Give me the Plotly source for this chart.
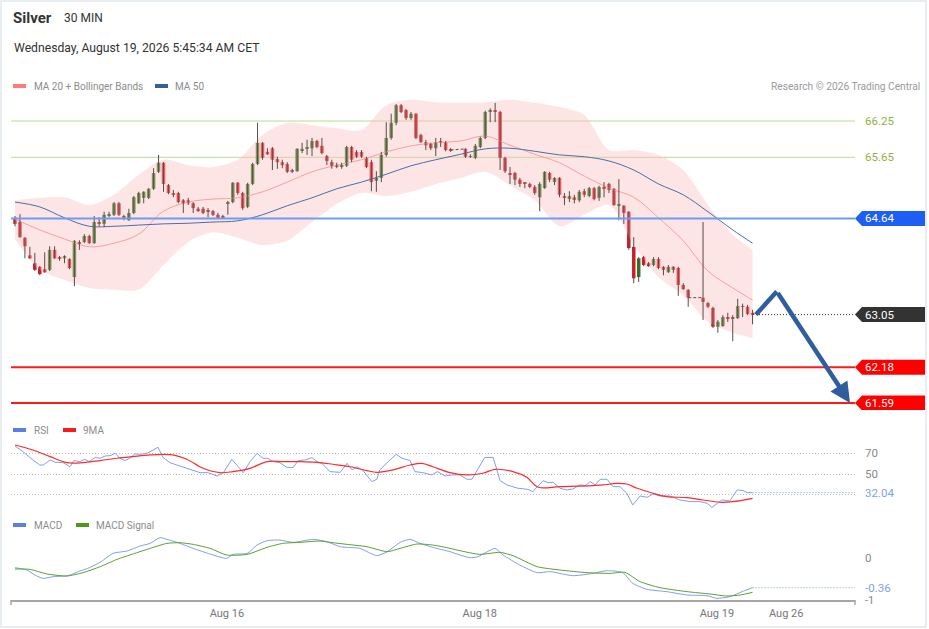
import plotly.graph_objects as go

W, H = 929, 629

# 30 min candles, positions on a slot axis (two session breaks left empty)
slots = list(range(0, 89)) + list(range(91, 137)) + list(range(139, 150))

opens = [64.65, 64.58, 64.32, 64.03, 63.90, 63.84, 63.80, 63.79, 64.12, 64.00,
         63.98, 63.97, 63.67, 64.25, 64.25, 64.35, 64.23, 64.58, 64.55, 64.68,
         64.70, 64.89, 64.68, 64.61, 64.73, 64.89, 64.98, 64.98, 65.13, 65.41,
         65.56, 65.19, 65.06, 65.06, 64.94, 64.94, 64.89, 64.80, 64.80, 64.78,
         64.76, 64.70, 64.68, 64.88, 64.91, 65.23, 65.06, 64.83, 65.21, 65.54,
         65.89, 65.74, 65.80, 65.62, 65.57, 65.54, 65.44, 65.42, 65.77, 65.79,
         65.80, 65.92, 65.84, 65.67, 65.57, 65.51, 65.49, 65.51, 65.82, 65.74,
         65.74, 65.64, 65.57, 65.26, 65.31, 65.69, 65.97, 66.22, 66.51, 66.43,
         66.30, 66.37, 66.02, 65.90, 65.87, 65.80, 65.92, 65.90, 65.79,
         65.79, 65.66, 65.64, 65.82, 65.97, 66.40, 66.43, 66.40, 65.64, 65.39,
         65.39, 65.28, 65.23, 65.21, 65.16, 64.99, 65.14, 65.39, 65.24, 65.31,
         65.01, 64.96, 64.99, 64.94, 65.09, 65.01, 65.14, 64.98, 65.16, 65.21,
         65.13, 64.85, 64.85, 64.75, 64.17, 63.67, 64.00, 63.90, 63.87, 63.97,
         63.84, 63.75, 63.84, 63.82, 63.54, 63.46,
         63.33, 63.24, 63.16, 62.85, 62.86, 63.01, 63.01, 62.99, 63.19, 63.18, 63.08]

highs = [64.68, 64.71, 64.33, 64.17, 64.07, 63.85, 64.08, 64.18, 64.18, 64.02,
         64.03, 63.98, 64.28, 64.28, 64.38, 64.37, 64.68, 64.66, 64.75, 64.75,
         64.91, 64.91, 64.70, 64.80, 65.01, 65.08, 65.09, 65.14, 65.47, 65.69,
         65.57, 65.21, 65.11, 65.08, 64.96, 64.98, 64.91, 64.83, 64.83, 64.81,
         64.78, 64.73, 64.70, 64.93, 65.24, 65.24, 65.08, 65.23, 65.56, 66.22,
         65.90, 65.80, 65.82, 65.66, 65.61, 65.57, 65.46, 65.80, 65.89, 65.94,
         65.97, 65.94, 65.97, 65.69, 65.61, 65.56, 65.56, 65.84, 65.84, 65.77,
         65.77, 65.66, 65.61, 65.42, 65.74, 66.23, 66.37, 66.53, 66.53, 66.45,
         66.40, 66.38, 66.04, 65.94, 65.89, 65.97, 65.97, 65.92, 65.80,
         65.80, 65.70, 65.87, 65.99, 66.42, 66.46, 66.55, 66.42, 65.66, 65.49,
         65.41, 65.31, 65.24, 65.23, 65.19, 65.24, 65.42, 65.41, 65.32, 65.32,
         65.06, 65.09, 65.03, 65.11, 65.13, 65.16, 65.16, 65.18, 65.24, 65.23,
         65.14, 65.29, 64.86, 64.76, 64.33, 64.00, 64.02, 63.92, 64.00, 64.00,
         63.85, 63.87, 63.85, 63.84, 63.57, 63.47,
         64.58, 63.26, 63.18, 62.96, 63.04, 63.08, 63.04, 63.31, 63.23, 63.21, 63.13]

lows = [64.51, 64.32, 63.98, 63.97, 63.77, 63.70, 63.74, 63.77, 63.97, 63.94,
        63.90, 63.80, 63.52, 64.12, 64.23, 64.22, 64.22, 64.51, 64.50, 64.66,
        64.68, 64.68, 64.61, 64.60, 64.71, 64.88, 64.89, 64.96, 65.11, 65.39,
        65.08, 65.04, 64.99, 64.89, 64.73, 64.86, 64.73, 64.75, 64.71, 64.66,
        64.68, 64.63, 64.65, 64.70, 64.89, 65.03, 64.78, 64.81, 65.19, 65.52,
        65.61, 65.69, 65.44, 65.46, 65.47, 65.39, 65.39, 65.41, 65.72, 65.69,
        65.67, 65.80, 65.70, 65.52, 65.46, 65.47, 65.46, 65.49, 65.57, 65.64,
        65.64, 65.47, 65.09, 65.08, 65.24, 65.66, 65.94, 66.18, 66.38, 66.27,
        66.27, 65.95, 65.89, 65.77, 65.77, 65.67, 65.82, 65.75, 65.74,
        65.64, 65.64, 65.62, 65.80, 65.95, 66.23, 66.23, 65.44, 65.39, 65.21,
        65.19, 65.16, 65.14, 65.14, 65.03, 64.76, 65.13, 65.24, 65.19, 64.99,
        64.86, 64.91, 64.89, 64.91, 64.99, 64.99, 64.94, 64.93, 64.99, 65.06,
        64.85, 64.61, 64.55, 64.12, 63.57, 63.59, 63.85, 63.84, 63.85, 63.80,
        63.70, 63.74, 63.74, 63.36, 63.46, 63.18,
        62.96, 63.16, 62.83, 62.75, 62.85, 62.93, 62.61, 62.98, 63.01, 63.04, 62.89]

closes = [64.55, 64.33, 64.18, 63.98, 63.79, 63.72, 63.75, 64.12, 63.98, 63.98,
          64.02, 63.82, 64.27, 64.22, 64.35, 64.23, 64.58, 64.55, 64.70, 64.70,
          64.89, 64.70, 64.65, 64.73, 64.99, 65.06, 65.08, 65.13, 65.39, 65.56,
          65.21, 65.06, 65.03, 64.91, 64.89, 64.89, 64.81, 64.76, 64.73, 64.75,
          64.70, 64.65, 64.66, 64.91, 65.23, 65.06, 64.81, 65.21, 65.54, 65.89,
          65.64, 65.70, 65.61, 65.57, 65.52, 65.41, 65.41, 65.79, 65.79, 65.82,
          65.92, 65.82, 65.72, 65.59, 65.51, 65.49, 65.51, 65.82, 65.61, 65.66,
          65.66, 65.49, 65.24, 65.31, 65.69, 65.97, 66.22, 66.51, 66.40, 66.30,
          66.37, 65.97, 65.90, 65.85, 65.80, 65.90, 65.89, 65.77, 65.77,
          65.66, 65.67, 65.84, 65.97, 66.40, 66.43, 66.40, 65.64, 65.42, 65.36,
          65.28, 65.21, 65.21, 65.16, 65.06, 65.21, 65.41, 65.28, 65.31, 65.03,
          64.98, 65.01, 64.96, 65.08, 65.03, 65.14, 64.96, 65.16, 65.14, 65.11,
          64.86, 64.88, 64.73, 64.15, 63.65, 63.98, 63.87, 63.85, 63.97, 63.82,
          63.79, 63.84, 63.79, 63.54, 63.47, 63.33,
          63.26, 63.18, 62.85, 62.93, 63.01, 62.98, 62.98, 63.19, 63.18, 63.06, 63.05]

# moving averages and Bollinger bands, read every 5 slots
band_slots = [0, 5, 10, 15, 20, 25, 30, 35, 40, 45, 50, 55, 60, 65, 70, 75,
              80, 85, 90, 95, 100, 105, 110, 115, 120, 125, 130, 135, 140, 145, 149]
ma20 = [64.63, 64.45, 64.30, 64.17, 64.23, 64.38, 64.76, 64.91, 64.96, 64.98,
        65.08, 65.24, 65.41, 65.52, 65.61, 65.74, 65.84, 65.89, 65.92, 66.00,
        65.85, 65.70, 65.56, 65.34, 65.14, 64.99, 64.65, 64.27, 63.77, 63.49, 63.29]
ma50 = [64.91, 64.83, 64.65, 64.51, 64.51, 64.53, 64.55, 64.56, 64.58, 64.60,
        64.70, 64.85, 64.98, 65.13, 65.24, 65.37, 65.51, 65.61, 65.70, 65.79,
        65.80, 65.75, 65.69, 65.66, 65.59, 65.44, 65.21, 65.03, 64.75, 64.45, 64.23]
bb_upper = [64.94, 64.98, 64.99, 64.86, 65.03, 65.36, 65.61, 65.52, 65.49, 65.61,
            66.02, 66.22, 66.18, 66.13, 66.10, 66.51, 66.60, 66.56, 66.55, 66.56,
            66.60, 66.55, 66.48, 66.35, 65.77, 65.77, 65.69, 65.44, 64.86, 64.37, 64.12]
bb_lower = [64.30, 63.79, 63.62, 63.49, 63.46, 63.46, 63.87, 64.25, 64.41, 64.32,
            64.20, 64.27, 64.58, 64.88, 65.06, 65.01, 65.08, 65.21, 65.31, 65.41,
            65.19, 64.94, 64.51, 64.70, 64.86, 64.20, 63.67, 63.37, 62.93, 62.75, 62.66]

# RSI and its 9 period average
rsi_slots = [0, 1.6, 3.6, 5, 5.7, 7.1, 8.1, 9.7, 11.1, 11.9,
             13.1, 14.1, 15, 16.2, 17.2, 18.2, 19.2, 20.2, 21.2, 22.2,
             23.2, 24.2, 25.3, 26.7, 27.9, 28.9, 29.9, 31.3, 32.7, 33.9,
             35.8, 37.4, 39, 40.8, 42, 43.8, 45.1, 46.1, 47.5, 48.9,
             50.1, 51.1, 52.1, 53.5, 54.9, 56.2, 57.2, 58.6, 60, 61,
             62, 63.6, 65.7, 67.1, 68.1, 69.1, 70.3, 72.1, 73.1, 73.7,
             75.4, 77, 78.2, 79.8, 80.8, 82.4, 84.2, 85.3, 86.9, 88.3,
             89.9, 91.3, 92.3, 93.5, 94.9, 96.6, 98, 99.4, 101.6, 103.6,
             104.6, 106.7, 107.7, 108.7, 110.1, 111.5, 112.7, 114.1, 115.2, 116.2,
             117.2, 118.2, 119.6, 120.8, 122.2, 123.6, 124.8, 126.3, 127.7, 128.9,
             130.3, 132.3, 134.3, 136.4, 138.4, 139.8, 140.8, 142.8, 144.4, 145.9,
             147.1, 147.9, 149]
rsi_vals = [77, 71.6, 63.6, 58.7, 58.7, 63.6, 61.3, 61, 57, 63,
            62, 64.2, 62, 66, 65.2, 67.4, 67.7, 70, 65.2, 63,
            65.2, 69.4, 69, 70, 73.2, 75.8, 66, 61, 58.7, 57,
            53.9, 51.3, 51.3, 48.1, 50.7, 64.2, 57, 51.3, 62, 70,
            65.2, 65.2, 62, 61, 56.5, 56.2, 63, 63.6, 65.8, 62,
            60.3, 52.3, 51.6, 60.3, 53.9, 57, 53.3, 42.6, 44.9, 53.9,
            62, 69, 65.2, 63, 52.3, 51.3, 49.1, 52.3, 48.1, 49.1,
            49.1, 44.9, 44.9, 54.5, 66, 66, 43.6, 39.4, 36.2, 35.2,
            33, 43.6, 41.7, 42, 36.2, 34.6, 35.5, 39.4, 38.8, 42.6,
            39.4, 44.9, 44.9, 37.8, 37.8, 31.4, 20.1, 28.8, 27.5, 30.7,
            28.8, 28.8, 24.9, 23.3, 23.3, 21.7, 17.8, 24.9, 24, 34.6,
            34, 32, 32.04]
rsi_ma_slots = [0, 3.6, 7.1, 10.5, 13.7, 17.2, 20.6, 23.8, 27.3, 29.9,
                31.9, 34.7, 38, 41.4, 44, 47.5, 50.9, 54.1, 57.6, 61,
                64.2, 67.7, 71.1, 73.1, 76.4, 79.8, 82.2, 84.4, 87.9, 91.3,
                94.5, 97, 100.6, 103.4, 105.7, 110.1, 116.8, 118.8, 121.6, 123.6,
                125.7, 128.9, 131.7, 135.8, 139, 142.4, 145, 149]
rsi_ma_vals = [78, 73.2, 66.8, 61, 61, 63, 65.2, 66.8, 68.4, 69,
               68.4, 64.2, 55.5, 51.3, 52.3, 55.5, 62, 62, 62, 61.3,
               59.4, 57, 53.3, 51.6, 53.9, 58.7, 60.3, 57, 51.3, 49.1,
               50.7, 54.5, 52.3, 46.8, 37.2, 37.8, 38.8, 39.4, 41, 40.3,
               36.2, 31.4, 28.1, 27.2, 24.9, 22.7, 23.3, 26.5]

# MACD and signal
macd_slots = [0, 2.4, 4, 5.7, 7.7, 10.7, 13.1, 14.7, 17.2, 19.8,
              22.6, 25.3, 27.3, 29.3, 30.7, 33.3, 36, 39.4, 42.8, 44,
              46.9, 48.9, 50.9, 53.5, 56.2, 60.2, 63, 65.7, 68.3, 69.7,
              73.1, 75.2, 77.8, 79.8, 81.8, 84.4, 87.9, 89.9, 91.9, 93.5,
              95.4, 97, 98.6, 102, 105.5, 108.1, 112.7, 116.8, 119.6, 122.8,
              124.8, 127.7, 131.7, 135.8, 139.8, 141.8, 144.4, 146.9, 149]
macd_vals = [-0.12, -0.148, -0.208, -0.248, -0.228, -0.216, -0.16, -0.128, -0.056, 0.052,
             0.08, 0.14, 0.172, 0.24, 0.22, 0.172, 0.112, 0.044, -0.008, 0.04,
             0.052, 0.152, 0.204, 0.212, 0.184, 0.22, 0.192, 0.132, 0.12, 0.112,
             0.024, 0.072, 0.184, 0.22, 0.172, 0.124, 0.072, 0.032, 0, 0.012,
             0.072, 0.112, 0.032, -0.088, -0.18, -0.168, -0.216, -0.188, -0.156, -0.18,
             -0.308, -0.38, -0.408, -0.448, -0.456, -0.488, -0.468, -0.408, -0.36]
sig_slots = [0, 3, 6.5, 10.5, 13.7, 17.2, 20.6, 23.8, 27.3, 30.7,
             33.3, 36, 39.4, 42.8, 46.9, 50.9, 54.1, 57.6, 61.6, 64.2,
             67.1, 71.1, 75.2, 77.8, 81.2, 84.4, 87.9, 89.9, 93.9, 98,
             100.6, 105.5, 110.1, 115.6, 120.2, 123.2, 126.3, 130.3, 135.8, 140.4,
             143.8, 146.5, 149]
sig_vals = [-0.136, -0.14, -0.196, -0.22, -0.18, -0.108, -0.02, 0.044, 0.112, 0.172,
            0.18, 0.16, 0.112, 0.032, 0.04, 0.124, 0.172, 0.184, 0.2, 0.18,
            0.16, 0.132, 0.072, 0.112, 0.164, 0.152, 0.112, 0.084, 0.04, 0.064,
            0.024, -0.108, -0.148, -0.18, -0.188, -0.176, -0.288, -0.36, -0.408, -0.436,
            -0.46, -0.448, -0.416]

# key levels
resistances = [66.25, 65.65]
pivot = 64.64
last_price = 63.05
supports = [62.18, 61.59]
rsi_last = 32.04
macd_last = -0.36

# forecast path drawn by the analyst
forecast_slots = [149.7, 153.9, 168.7]
forecast_prices = [63.05, 63.43, 61.59]

date_ticks = [42.8, 93.9, 141.8, 155.8]
date_labels = ["Aug 16", "Aug 18", "Aug 19", "Aug 26"]

GREEN = "#2e7d1f"
RED = "#f0141e"
WICK = "#5b4a4a"
BLUE_IND = "#7f9ff0"
FONT = "Roboto"
FINE_DOT = "1px,2px"


def px(x):
    return x / W


def py(y):
    return 1 - y / H


X_DOMAIN = [px(11), px(855)]
X_RANGE = [-0.81, 169.7]
MAIN_RANGE = [61.473, 66.680]
RSI_RANGE = [15.22, 82.85]
MACD_RANGE = [-0.508, 0.3325]
TAG_H = (MAIN_RANGE[1] - MAIN_RANGE[0]) * 7.5 / 315

fig = go.Figure()

# Bollinger band fill
fig.add_trace(go.Scatter(x=band_slots, y=bb_lower, mode="lines",
                         line=dict(width=0, shape="spline", smoothing=0.8),
                         hoverinfo="skip"))
fig.add_trace(go.Scatter(x=band_slots, y=bb_upper, mode="lines", fill="tonexty",
                         fillcolor="rgba(250,190,190,0.4)",
                         line=dict(width=0, shape="spline", smoothing=0.8),
                         hoverinfo="skip"))
fig.add_trace(go.Scatter(x=band_slots, y=ma20, mode="lines",
                         line=dict(color="#f7a0a0", width=1, shape="spline")))
fig.add_trace(go.Scatter(x=band_slots, y=ma50, mode="lines",
                         line=dict(color="#4b6ea8", width=1, shape="spline")))

# wicks
wick_x, wick_y = [], []
for s, h, l in zip(slots, highs, lows):
    wick_x += [s, s, None]
    wick_y += [l, h, None]
fig.add_trace(go.Scatter(x=wick_x, y=wick_y, mode="lines",
                         line=dict(color=WICK, width=1), hoverinfo="skip"))

# dashed link across session breaks
for i in range(1, len(slots)):
    if slots[i] - slots[i - 1] > 1:
        fig.add_trace(go.Scatter(x=[slots[i - 1], slots[i]], y=[closes[i - 1], opens[i]],
                                 mode="lines", line=dict(color="#555", width=1, dash="3px,2px"),
                                 hoverinfo="skip"))

# candle bodies
body_base = [min(o, c) for o, c in zip(opens, closes)]
body_len = [abs(c - o) for o, c in zip(opens, closes)]
body_col = [GREEN if c >= o else RED for o, c in zip(opens, closes)]
fig.add_trace(go.Bar(x=slots, y=body_len, base=body_base, width=0.72,
                     marker=dict(color=body_col, line=dict(width=0)), hoverinfo="skip"))

# forecast arrow, first leg
fig.add_trace(go.Scatter(x=forecast_slots[:2], y=forecast_prices[:2], mode="lines",
                         line=dict(color="#2f5d9e", width=4.5), hoverinfo="skip"))

# RSI panel
fig.add_trace(go.Scatter(x=rsi_slots, y=rsi_vals, mode="lines", xaxis="x2", yaxis="y2",
                         line=dict(color=BLUE_IND, width=1)))
fig.add_trace(go.Scatter(x=rsi_ma_slots, y=rsi_ma_vals, mode="lines", xaxis="x2", yaxis="y2",
                         line=dict(color="#ff2a2a", width=1.2, shape="spline")))

# MACD panel
fig.add_trace(go.Scatter(x=macd_slots, y=macd_vals, mode="lines", xaxis="x3", yaxis="y3",
                         line=dict(color=BLUE_IND, width=1, shape="spline", smoothing=0.6)))
fig.add_trace(go.Scatter(x=sig_slots, y=sig_vals, mode="lines", xaxis="x3", yaxis="y3",
                         line=dict(color="#5aa02c", width=1, shape="spline", smoothing=0.6)))

shapes = []
annotations = []


def label(text, x, y, size=12, color="#333", xanchor="left", yref="paper", bold=False):
    if bold:
        text = "<b>" + text + "</b>"
    annotations.append(dict(text=text, x=x, y=y, xref="paper", yref=yref,
                            xanchor=xanchor, yanchor="middle", showarrow=False,
                            font=dict(family=FONT, size=size, color=color)))


def tag(value, fill):
    x0, x1, x2 = px(855), px(862), px(925)
    path = (f"M {x0},{value} L {x1},{value + TAG_H} L {x2},{value + TAG_H} "
            f"L {x2},{value - TAG_H} L {x1},{value - TAG_H} Z")
    shapes.append(dict(type="path", path=path, xref="paper", yref="y",
                       fillcolor=fill, line=dict(width=0), layer="above"))
    label(f"{value:.2f}", px(863), value, size=11.5, color="white", yref="y")


def hline(value, color, width, layer="above"):
    shapes.append(dict(type="line", xref="paper", yref="y", x0=X_DOMAIN[0], x1=X_DOMAIN[1],
                       y0=value, y1=value, line=dict(color=color, width=width), layer=layer))


for v in resistances:
    hline(v, "#b8dc90", 1, layer="below")
    label(f"{v:.2f}", px(863), v, size=11.5, color="#8db33a", yref="y")

hline(pivot, "#6d9cf5", 2)
tag(pivot, "#1d5ff5")

shapes.append(dict(type="line", xref="x", yref="y", x0=forecast_slots[0], x1=X_RANGE[1],
                   y0=last_price, y1=last_price, line=dict(color="#333", width=1, dash=FINE_DOT)))
tag(last_price, "#333333")

for v in supports:
    hline(v, "#ff1a1a", 2)
    tag(v, "#ff0000")

# forecast arrow, second leg with head
annotations.append(dict(x=forecast_slots[2], y=forecast_prices[2], ax=forecast_slots[1],
                        ay=forecast_prices[1], xref="x", yref="y", axref="x", ayref="y",
                        text="", showarrow=True, arrowhead=2, arrowsize=0.9,
                        arrowwidth=4.5, arrowcolor="#2f5d9e", standoff=0))

# RSI side labels
label("70", px(863), 70, size=11.5, color="#888", yref="y2")
label("50", px(863), 50, size=11.5, color="#888", yref="y2")
label(f"{rsi_last:.2f}", px(863), rsi_last, size=11.5, color=BLUE_IND, yref="y2")
shapes.append(dict(type="line", xref="x2", yref="y2", x0=rsi_slots[-1], x1=X_RANGE[1],
                   y0=rsi_last, y1=rsi_last, line=dict(color=BLUE_IND, width=1, dash=FINE_DOT)))

# MACD side labels
label("0", px(863), 0, size=11.5, color="#888", yref="y3")
label("-1", px(863), py(600), size=11, color="#888")
label(f"{macd_last:.2f}", px(863), macd_last, size=11.5, color=BLUE_IND, yref="y3")
shapes.append(dict(type="line", xref="x3", yref="y3", x0=macd_slots[-1], x1=X_RANGE[1],
                   y0=macd_last, y1=macd_last, line=dict(color=BLUE_IND, width=1, dash=FINE_DOT)))

# axis end ticks
for xe in (11, 855):
    shapes.append(dict(type="line", xref="paper", yref="paper", x0=px(xe), x1=px(xe),
                       y0=py(600), y1=py(605), line=dict(color="#a6a6a6", width=1.5)))

# header and legends
label("Silver", px(11), py(18), size=15, color="#333", bold=True)
label("30 MIN", px(62), py(18), size=12, color="#333")
label("Wednesday, August 19, 2026 5:45:34 AM CET", px(12), py(48), size=12.2, color="#333")
label("Research © 2026 Trading Central", px(922), py(86), size=10.2, color="#9a9a9a",
      xanchor="right")


def swatch(x0, y, color):
    shapes.append(dict(type="rect", xref="paper", yref="paper", x0=px(x0), x1=px(x0 + 13),
                       y0=py(y + 2), y1=py(y - 2), fillcolor=color, line=dict(width=0)))


swatch(13, 86, "#ff7b7b")
label("MA 20 + Bollinger Bands", px(32), py(86), size=10, color="#8c8c8c")
swatch(155, 86, "#3a5d9c")
label("MA 50", px(173), py(86), size=10, color="#8c8c8c")

swatch(13, 430, "#5b7fe6")
label("RSI", px(32), py(430), size=10, color="#8c8c8c")
swatch(63, 430, "#ff1a1a")
label("9MA", px(81), py(430), size=10, color="#8c8c8c")

swatch(13, 525, "#5b7fe6")
label("MACD", px(32), py(525), size=10, color="#8c8c8c")
swatch(76, 525, "#4c9a1a")
label("MACD Signal", px(94), py(525), size=10, color="#8c8c8c")

# outer frame
shapes.append(dict(type="rect", xref="paper", yref="paper", x0=px(1), x1=px(926),
                   y0=py(627), y1=py(1), line=dict(color="#e1e8ed", width=1.5)))

hidden_x = dict(domain=X_DOMAIN, range=X_RANGE, visible=False, fixedrange=True)
fig.update_layout(
    width=W, height=H,
    margin=dict(l=0, r=0, t=0, b=0),
    paper_bgcolor="white", plot_bgcolor="white",
    showlegend=False, hovermode=False,
    font=dict(family=FONT, color="#333"),
    xaxis=dict(hidden_x, anchor="y"),
    xaxis2=dict(hidden_x, anchor="y2"),
    xaxis3=dict(domain=X_DOMAIN, range=X_RANGE, anchor="y3", showline=True,
                linecolor="#a6a6a6", linewidth=2, showgrid=False, zeroline=False,
                tickvals=date_ticks, ticktext=date_labels, ticks="outside", ticklen=2,
                tickcolor="rgba(0,0,0,0)", tickfont=dict(family=FONT, size=11, color="#777")),
    yaxis=dict(domain=[py(410), py(95)], range=MAIN_RANGE, visible=False, anchor="x"),
    yaxis2=dict(domain=[py(510), py(440)], range=RSI_RANGE, anchor="x2",
                tickvals=[30, 50, 70], showticklabels=False, showgrid=True,
                gridcolor="#bdbdbd", griddash=FINE_DOT, zeroline=False),
    yaxis3=dict(domain=[py(600), py(530)], range=MACD_RANGE, anchor="x3",
                showticklabels=False, showgrid=False, zeroline=False),
    shapes=shapes,
    annotations=annotations,
)

fig.write_html("out.html", config={"displayModeBar": False},
               post_script="document.body.style.margin='0';document.body.style.overflow='hidden';")
